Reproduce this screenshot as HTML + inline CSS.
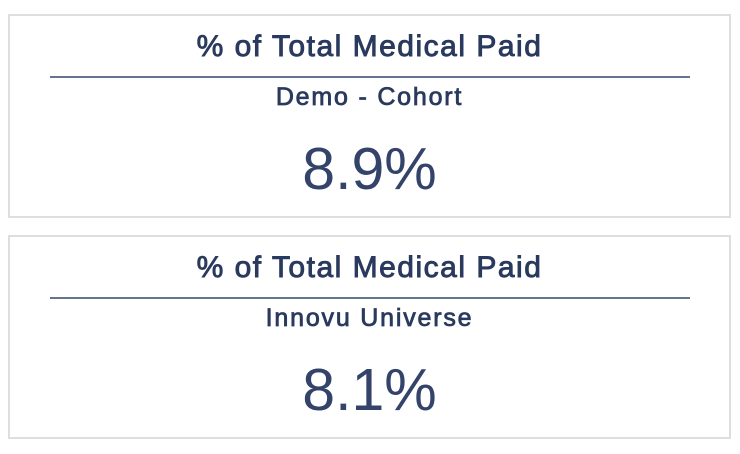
<!DOCTYPE html>
<html><head><meta charset="utf-8"><style>
body{margin:0;width:740px;height:454px;background:#fff;font-family:"Liberation Sans",Arial,sans-serif;color:#2a3a5e;position:relative;overflow:hidden}
.card{position:absolute;left:8px;width:719px;border:2px solid #dedede;background:#fff}
.t{position:absolute;left:0;right:0;text-align:center;font-size:30px;line-height:30px;top:16px;letter-spacing:1.5px;-webkit-text-stroke:0.9px #2a3a5e}
.rule{position:absolute;left:40px;width:640px;height:2px;background:#67748f;top:60px}
.s{position:absolute;left:0;right:0;text-align:center;font-size:25px;line-height:25px;top:69px;letter-spacing:1.8px;-webkit-text-stroke:0.8px #2a3a5e}
.v{position:absolute;left:0;right:0;text-align:center;font-size:59px;line-height:59px;top:124px;color:#34436a}
</style></head><body>
<div class="card" style="top:14px;height:200px">
<div class="t">% of Total Medical Paid</div>
<div class="rule"></div>
<div class="s">Demo - Cohort</div>
<div class="v">8.9%</div>
</div>
<div class="card" style="top:235px;height:200px">
<div class="t">% of Total Medical Paid</div>
<div class="rule"></div>
<div class="s">Innovu Universe</div>
<div class="v">8.1%</div>
</div>
</body></html>
